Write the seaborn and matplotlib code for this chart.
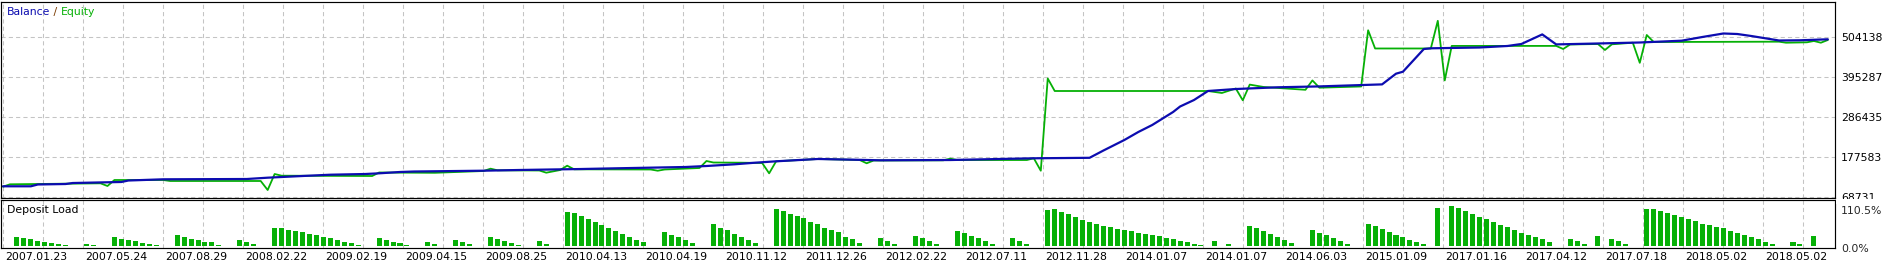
import matplotlib
matplotlib.use("Agg")
import matplotlib.pyplot as plt
import matplotlib.transforms as mtransforms
from matplotlib.patches import Rectangle
import numpy as np
import pandas as pd
import seaborn as sns

# ---------------- data ----------------
balance_trade = [0, 4, 5, 9, 10, 17, 18, 23, 35, 38, 43, 47, 52, 54, 57, 59, 69, 74, 83, 88,
                 98, 101, 105, 108, 111, 117, 122, 126, 136, 148, 156, 158, 161, 163, 165, 168,
                 169, 171, 173, 177, 183, 189, 198, 200, 201, 204, 205, 212, 216, 218, 221, 223,
                 229, 235, 241, 244, 247, 249, 251, 255, 258, 262]
balance_value = [98700, 98700, 103600, 104900, 107600, 110400, 114400, 117700, 118500, 122100,
                 126700, 130200, 132100, 134000, 137600, 138900, 141100, 143000, 145700, 147600,
                 151200, 153900, 158500, 162900, 166700, 173000, 171100, 169400, 170200, 174900,
                 176200, 196100, 224700, 246400, 265500, 300900, 315800, 333500, 358000, 363400,
                 368100, 370500, 376000, 405100, 410500, 472300, 474200, 476400, 480500, 485900,
                 512000, 484800, 487300, 490000, 494900, 505000, 514500, 513100, 507700, 495400,
                 496000, 498700]

equity_trade = [0, 1, 14, 15, 16, 23, 24, 37, 38, 39, 40, 53, 54, 62, 69, 70, 71, 77, 78, 80,
                81, 82, 93, 94, 95, 100, 101, 102, 106, 109, 110, 111, 117, 123, 124, 125, 135,
                136, 137, 147, 148, 149, 150, 151, 173, 175, 177, 178, 179, 181, 187, 188, 189,
                195, 196, 197, 205, 206, 207, 208, 223, 224, 225, 229, 230, 231, 234, 235, 236,
                237, 255, 256, 259, 260, 261, 262]
equity_value = [97600, 104100, 106800, 99500, 115800, 115800, 113100, 113100, 88600, 132100,
                127500, 126700, 136200, 135400, 140300, 146600, 142200, 141700, 135700, 143000,
                154700, 144900, 144400, 141100, 144400, 148500, 167500, 163400, 162900, 162100,
                134000, 166700, 173000, 170200, 161300, 168900, 169400, 173800, 170200, 170200,
                174900, 141100, 392000, 358000, 358000, 352600, 364800, 332700, 375400, 368900,
                361300, 386800, 367000, 370300, 523200, 473700, 473700, 549000, 386800, 480700,
                480700, 472300, 484600, 485900, 469600, 485100, 489400, 434700, 510400, 491300,
                492200, 489400, 490500, 494100, 489400, 496800]

load_trade = [*range(2, 10), 12, 13, *range(16, 23), *range(25, 32), *range(34, 37),
              *range(39, 52), *range(54, 59), 61, 62, *range(65, 68), *range(70, 75), 77, 78,
              *range(81, 93), *range(95, 100), *range(102, 109), *range(111, 124),
              *range(126, 129), *range(131, 135), *range(137, 143), *range(145, 148),
              *range(150, 173), 174, 176, *range(179, 186), *range(188, 194), *range(196, 205),
              206, *range(208, 223), *range(225, 228), 229, *range(231, 234), *range(236, 255),
              257, 258, 260]
load_pct = [25.8, 22, 19, 14, 11, 8, 6.5, 3.7,
            5.5, 3.7,
            25.8, 19, 16.6, 14.7, 9, 6.5, 3.7,
            31, 25.8, 20, 16.6, 11, 10, 3.7,
            17.5, 12, 6.5,
            50, 50, 44.5, 42, 39, 33.5, 31, 25, 22, 16.6, 11.5, 9, 3.7,
            23, 16.6, 11, 9, 3.7,
            12, 6.5,
            17.5, 12, 6.5,
            25.8, 19, 14.7, 9, 3.7,
            14.7, 6.5,
            95, 92, 84, 75.5, 67, 59, 50, 42, 34, 25.8, 17.5, 10,
            38, 31.5, 23.5, 15.5, 7,
            59.5, 51, 43, 34.5, 25.8, 15.5, 7,
            103.5, 95.5, 89.5, 81.5, 76, 67.5, 59.5, 51, 45.5, 37.5, 26, 18, 9.5,
            23, 14.7, 6.5,
            28.6, 23, 14.7, 6.5,
            42, 37, 28.6, 23, 14.7, 6.5,
            23, 14.7, 6.5,
            100, 103, 95, 89, 81, 73, 67, 62, 56, 53, 48, 45, 42, 37, 34, 31, 28.6, 23, 20, 14.7, 12, 6.5, 3.7,
            14.7, 6.5,
            56, 50.6, 42, 34, 25.8, 17.5, 9,
            45, 37, 31, 23, 14.7, 6.5,
            62, 56, 48, 39.6, 31, 25.8, 17.5, 12, 6.5,
            106,
            110.5, 106, 97.6, 89, 81, 75.5, 67, 59, 53, 45, 37, 31, 25.8, 20, 12,
            20, 14.7, 6.5,
            28.6,
            20, 14.7, 6.5,
            103, 103, 97.6, 92, 86.6, 81, 75.5, 70, 62, 59, 53, 50.6, 42, 37, 31, 25.8, 20, 12, 6.5,
            12, 6.5,
            28.6]
assert len(load_trade) == len(load_pct), (len(load_trade), len(load_pct))

date_labels = ["2007.01.23", "2007.05.24", "2007.08.29", "2008.02.22", "2009.02.19",
               "2009.04.15", "2009.08.25", "2010.04.13", "2010.04.19", "2010.11.12",
               "2011.12.26", "2012.02.22", "2012.07.11", "2012.11.28", "2014.01.07",
               "2014.01.07", "2014.06.03", "2015.01.09", "2017.01.16", "2017.04.12",
               "2017.07.18", "2018.05.02", "2018.05.02"]
value_ticks = [68731, 177583, 286435, 395287, 504138]
load_ticks = [0.0, 110.5]
load_tick_labels = ["0.0%", "110.5%"]

# ---------------- style ----------------
W, H, DPI = 1886, 264, 100
BLUE = "#0c0cb0"
GREEN = "#06b006"
GRID = "#c4c4c4"
sns.set_style("white")
plt.rcParams["font.family"] = ["DejaVu Sans"]
plt.rcParams["font.size"] = 7.8

fig = plt.figure(figsize=(W / DPI, H / DPI), dpi=DPI)

def fx(px):
    return px / W

def fy(py):
    return 1 - py / H

ax1 = fig.add_axes([fx(1), fy(198.2), fx(1834), (198.2 - 1.5) / H])
ax2 = fig.add_axes([fx(1), fy(247.5), fx(1834), (247.5 - 200.3) / H])

PX_PER_TRADE = 6.965
x_lo = -2 / PX_PER_TRADE
x_hi = 1832 / PX_PER_TRADE

# ---- main panel ----
sns.lineplot(x=equity_trade, y=equity_value, sort=False, estimator=None,
             color=GREEN, linewidth=1.3, ax=ax1)
sns.lineplot(x=balance_trade, y=balance_value, sort=False, estimator=None,
             color=BLUE, linewidth=1.6, ax=ax1)

# ---- deposit load ----
sns.barplot(x=load_trade, y=load_pct, native_scale=True, width=0.72, color=GREEN,
            saturation=1, errorbar=None, linewidth=0, ax=ax2)

step = (value_ticks[1] - value_ticks[0]) / 40.0     # value per pixel
ax1.set_ylim(value_ticks[0] - 0.9 * step, value_ticks[0] + 195.8 * step)
pct_per_px = load_ticks[1] / 40.0
ax2.set_ylim(-1.5 * pct_per_px, 45.7 * pct_per_px)

grid_major = [80 * k / PX_PER_TRADE for k in range(len(date_labels))]
grid_minor = [(40 + 80 * k) / PX_PER_TRADE for k in range(len(date_labels))]

for ax in (ax1, ax2):
    ax.set_xlim(x_lo, x_hi)
    ax.set_xticks(grid_major)
    ax.set_xticks(grid_minor, minor=True)
    ax.grid(which="both", axis="x", color=GRID, linestyle=(0, (4, 3)), linewidth=0.75)
    for s in ax.spines.values():
        s.set_visible(True)
        s.set_color("black")
        s.set_linewidth(0.85)
    ax.set_xlabel("")
    ax.set_ylabel("")
    ax.tick_params(which="minor", length=0)
    ax.yaxis.tick_right()

ax1.set_xticklabels([])
ax1.tick_params(axis="x", which="both", length=0)
ax1.set_yticks(value_ticks)
ax1.set_yticklabels([str(v) for v in value_ticks])
ax1.grid(axis="y", color=GRID, linestyle=(0, (4, 3)), linewidth=0.75)
ax1.tick_params(axis="y", length=0, pad=4.3, labelsize=7.8, colors="black")

ax2.set_xticklabels(date_labels)
ax2.tick_params(axis="x", which="major", length=1.6, width=0.8, pad=2.0, labelsize=7.8,
                direction="out", colors="black")
off = mtransforms.ScaledTranslation(2 / DPI, 0, fig.dpi_scale_trans)
for lab in ax2.get_xticklabels():
    lab.set_horizontalalignment("left")
    lab.set_transform(lab.get_transform() + off)
ax2.set_yticks(load_ticks)
ax2.set_yticklabels(load_tick_labels)
ax2.tick_params(axis="y", length=0, pad=4.3, labelsize=7.8)
ax2.grid(axis="y", visible=False)
shifts = {"0.0%": -2, "110.5%": -4}
for lab in ax2.get_yticklabels():
    d = shifts.get(lab.get_text(), 0)
    lab.set_transform(lab.get_transform() + mtransforms.ScaledTranslation(0, d / DPI, fig.dpi_scale_trans))

# clip the lowest value label where the lower panel begins
fig.patches.append(Rectangle((fx(1836), fy(204)), fx(W - 1836), 5 / H,
                             transform=fig.transFigure, facecolor="white",
                             edgecolor="none", zorder=10))

# ---- titles ----
t1 = fig.text(fx(7), fy(12), "Balance", color=BLUE, va="center", ha="left", fontsize=7.8)
a1 = ax1.annotate(" / ", xy=(1, 0.5), xycoords=t1, va="center", ha="left",
                  color="#7a3a00", fontsize=7.8, annotation_clip=False)
a2 = ax1.annotate("Equity", xy=(1, 0.5), xycoords=a1, va="center", ha="left",
                  color=GREEN, fontsize=7.8, annotation_clip=False)
fig.text(fx(7), fy(210), "Deposit Load", color="black", va="center", ha="left", fontsize=7.8)

fig.savefig("out.png", dpi=DPI, facecolor="white")
